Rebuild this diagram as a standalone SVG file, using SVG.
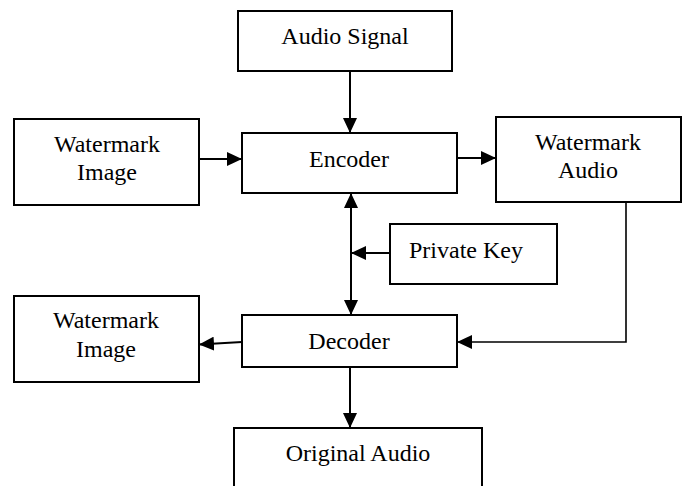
<svg xmlns="http://www.w3.org/2000/svg" width="686" height="486" viewBox="0 0 686 486">
<style>
.box{fill:#fff;stroke:#000;stroke-width:2}
.t{font-family:"Liberation Serif","Times New Roman",serif;font-size:24px;fill:#000;text-anchor:middle}
.c{fill:none;stroke:#000;stroke-width:2}
.ct{fill:none;stroke:#000;stroke-width:1.6}
</style>
<defs>
<marker id="ah" markerUnits="userSpaceOnUse" markerWidth="15" markerHeight="14" refX="15" refY="7" orient="auto-start-reverse">
<path d="M0,0 L15,7 L0,14 Z" fill="#000"/>
</marker>
</defs>
<rect width="686" height="486" fill="#fff"/>
<g id="connectors">
<line class="c" x1="350" y1="71" x2="350" y2="133" marker-end="url(#ah)"/>
<line class="c" x1="199" y1="159" x2="242" y2="159" marker-end="url(#ah)"/>
<line class="c" x1="457" y1="158" x2="496" y2="158" marker-end="url(#ah)"/>
<line class="c" x1="351" y1="193" x2="351" y2="315" marker-start="url(#ah)" marker-end="url(#ah)"/>
<line class="c" x1="390" y1="253" x2="351" y2="253" marker-end="url(#ah)"/>
<polyline class="ct" points="626,197 626,342 457,342" marker-end="url(#ah)"/>
<line class="c" x1="242" y1="342" x2="199" y2="344.5" marker-end="url(#ah)"/>
<line class="c" x1="350" y1="367" x2="350" y2="428" marker-end="url(#ah)"/>
</g>
<g id="audio-signal">
<rect class="box" x="238" y="11" width="214" height="60"/>
<text class="t" x="345" y="44">Audio Signal</text>
</g>
<g id="watermark-image-in">
<rect class="box" x="14" y="119" width="185" height="86"/>
<text class="t" x="107" y="152">Watermark</text>
<text class="t" x="107" y="180">Image</text>
</g>
<g id="encoder">
<rect class="box" x="242" y="133" width="215" height="60"/>
<text class="t" x="349" y="167">Encoder</text>
</g>
<g id="watermark-audio">
<rect class="box" x="496" y="117" width="185" height="85"/>
<text class="t" x="588" y="150">Watermark</text>
<text class="t" x="588" y="178">Audio</text>
</g>
<g id="private-key">
<rect class="box" x="390" y="224" width="167" height="60"/>
<text class="t" x="466" y="258">Private Key</text>
</g>
<g id="watermark-image-out">
<rect class="box" x="14" y="296" width="185" height="86"/>
<text class="t" x="106" y="328">Watermark</text>
<text class="t" x="106" y="357">Image</text>
</g>
<g id="decoder">
<rect class="box" x="242" y="315" width="215" height="52"/>
<text class="t" x="349" y="349">Decoder</text>
</g>
<g id="original-audio">
<rect class="box" x="234" y="428" width="248" height="70"/>
<text class="t" x="358" y="461">Original Audio</text>
</g>
</svg>
